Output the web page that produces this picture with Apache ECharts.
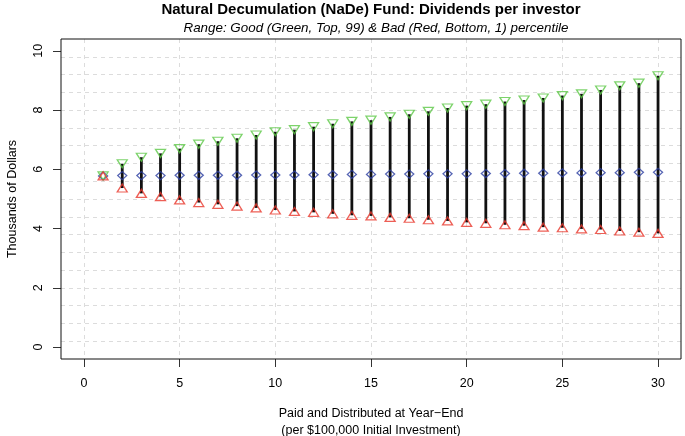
<!DOCTYPE html>
<html>
<head>
<meta charset="utf-8">
<script src="https://cdn.jsdelivr.net/npm/echarts@6/dist/echarts.min.js"></script>
<style>
html,body{margin:0;padding:0;background:#fff;}
#chart{width:685px;height:436px;}
</style>
</head>
<body>
<div id="chart"></div>
<script>
var titleText = 'Natural Decumulation (NaDe) Fund: Dividends per investor';
var subtitleText = 'Range: Good (Green, Top, 99) & Bad (Red, Bottom, 1) percentile';
var xName = 'Paid and Distributed at Year\u2212End\n(per $100,000 Initial Investment)';
var yName = 'Thousands of Dollars';

var years = [1,2,3,4,5,6,7,8,9,10,11,12,13,14,15,16,17,18,19,20,21,22,23,24,25,26,27,28,29,30];
var good = [5.78,6.19,6.41,6.54,6.70,6.85,6.95,7.05,7.16,7.27,7.34,7.44,7.54,7.62,7.66,7.77,7.86,7.96,8.07,8.15,8.20,8.29,8.34,8.41,8.49,8.55,8.68,8.82,8.91,9.16];
var median = [5.78,5.79,5.79,5.79,5.80,5.80,5.80,5.80,5.81,5.81,5.81,5.82,5.82,5.83,5.83,5.84,5.84,5.85,5.85,5.85,5.86,5.86,5.87,5.87,5.88,5.88,5.89,5.89,5.90,5.90];
var bad = [5.78,5.37,5.19,5.08,4.97,4.88,4.82,4.76,4.70,4.63,4.58,4.55,4.50,4.45,4.43,4.38,4.35,4.30,4.26,4.21,4.18,4.13,4.10,4.05,4.03,3.99,3.97,3.92,3.88,3.84];

var xTicks = [0,5,10,15,20,25,30];
var yTicks = [0,2,4,6,8,10];

var FONT = 'Liberation Sans, Arial, Helvetica, sans-serif';

function pairs(vals){ return years.map(function(y,i){ return [y, vals[i]]; }); }
var rangeData = years.map(function(y,i){ return [y, bad[i], good[i]]; });

var chart = echarts.init(document.getElementById('chart'), null, {renderer:'canvas'});
chart.setOption({
  animation: false,
  backgroundColor: '#ffffff',
  title: [
    {text: titleText, left: 371, top: 2, textAlign: 'center', padding: 0,
     textStyle: {fontFamily: FONT, fontWeight: 'bold', fontSize: 15, color: '#000'}},
    {text: subtitleText, left: 376, top: 22, textAlign: 'center', padding: 0,
     textStyle: {fontFamily: FONT, fontStyle: 'italic', fontWeight: 'normal', fontSize: 13.4, color: '#000'}}
  ],
  grid: {left: 61, right: 4, top: 39, bottom: 77, containLabel: false, outerBoundsMode: 'none',
         show: true, borderColor: '#111', borderWidth: 1, backgroundColor: 'transparent', z: 3},
  xAxis: {
    type: 'value', min: -1.2, max: 31.2,
    name: xName, nameLocation: 'middle', nameGap: 46,
    nameTextStyle: {fontFamily: FONT, fontSize: 12.5, color: '#000', lineHeight: 17},
    axisLine: {show: false, onZero: false},
    axisTick: {show: true, length: 8, customValues: xTicks, lineStyle: {color: '#333'}},
    axisLabel: {show: true, customValues: xTicks, margin: 18, fontFamily: FONT, fontSize: 12.5, color: '#000'},
    splitLine: {show: true, lineStyle: {color: '#dcdcdc', type: [4,4], width: 1}}
  },
  yAxis: [
    {
      type: 'value', min: -0.4, max: 10.4, position: 'left',
      name: yName, nameLocation: 'middle', nameGap: 42,
      nameTextStyle: {fontFamily: FONT, fontSize: 12.5, color: '#000'},
      axisLine: {show: false, onZero: false},
      axisTick: {show: true, length: 8, customValues: yTicks, lineStyle: {color: '#333'}},
      axisLabel: {show: true, customValues: yTicks, rotate: 90, margin: 16, fontFamily: FONT, fontSize: 12.5, color: '#000'},
      splitLine: {show: false}
    },
    {
      type: 'value', min: -0.4, max: 10.4, interval: 0.6, position: 'right',
      axisLine: {show: false, onZero: false}, axisTick: {show: false}, axisLabel: {show: false},
      splitLine: {show: true, showMinLine: false, showMaxLine: false, lineStyle: {color: '#dcdcdc', type: [4,4], width: 1}}
    }
  ],
  series: [
    {
      type: 'custom',
      data: rangeData,
      encode: {x: 0, y: [1, 2]},
      z: 2,
      renderItem: function(params, api){
        var p1 = api.coord([api.value(0), api.value(1)]);
        var p2 = api.coord([api.value(0), api.value(2)]);
        return {type: 'line', shape: {x1: p1[0], y1: p1[1], x2: p2[0], y2: p2[1]},
                style: {stroke: '#111', lineWidth: 2.8}};
      }
    },
    {
      type: 'scatter', data: pairs(median), symbol: 'diamond', symbolSize: [9, 8], z: 3,
      itemStyle: {color: 'rgba(0,0,0,0)', borderColor: '#2b3da0', borderWidth: 1.3}
    },
    {
      type: 'scatter', data: pairs(good), symbol: 'triangle', symbolRotate: 180, symbolSize: [10, 8], z: 4,
      itemStyle: {color: 'rgba(0,0,0,0)', borderColor: '#5cc846', borderWidth: 1.3}
    },
    {
      type: 'scatter', data: pairs(bad), symbol: 'triangle', symbolSize: [10, 8], z: 5,
      itemStyle: {color: 'rgba(0,0,0,0)', borderColor: '#e8372c', borderWidth: 1.3}
    }
  ]
});
</script>
</body>
</html>
